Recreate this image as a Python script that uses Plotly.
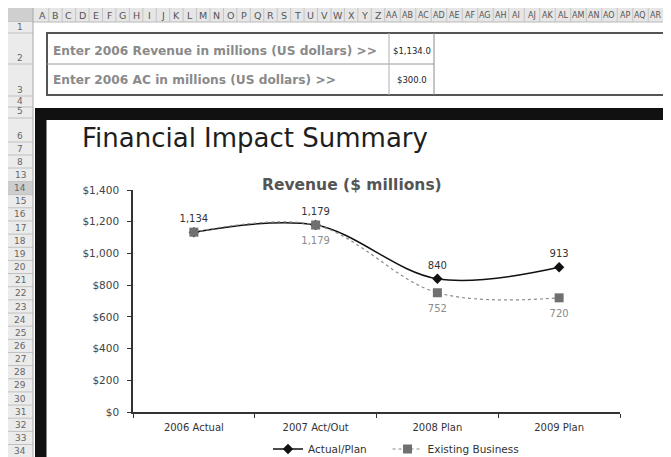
import plotly.graph_objects as go

# ---------------- data ----------------
categories = ["2006 Actual", "2007 Act/Out", "2008 Plan", "2009 Plan"]
actual_plan = [1134, 1179, 840, 913]
existing_business = [1134, 1179, 752, 720]
actual_labels = ["1,134", "1,179", "840", "913"]
existing_labels = ["", "1,179", "752", "720"]
series_names = ["Actual/Plan", "Existing Business"]
y_ticks = [0, 200, 400, 600, 800, 1000, 1200, 1400]
y_tick_text = ["$" + format(v, ",") for v in y_ticks]

input_labels = ["Enter 2006 Revenue in millions (US dollars) >>",
                "Enter 2006 AC in millions (US dollars) >>"]
input_values = ["$1,134.0", "$300.0"]

col_letters = [chr(ord("A") + i) for i in range(26)]
col_letters2 = ["A" + chr(ord("A") + i) for i in range(18)]
row_labels = ["1", "2", "3", "4", "5", "6", "7", "8", "13"] + [str(i) for i in range(14, 35)]

# ---------------- geometry helpers ----------------
# page body has an 8px margin, so the figure is sized to end at the window edge
OFF = 8
W, H = 671 - OFF, 457 - OFF
PLOT_X0, PLOT_X1, PLOT_Y0, PLOT_Y1 = 133, 620, 190, 412   # screen pixels
L, R = PLOT_X0 - OFF, W - (PLOT_X1 - OFF)
T, B = PLOT_Y0 - OFF, H - (PLOT_Y1 - OFF)
PW, PH = PLOT_X1 - PLOT_X0, PLOT_Y1 - PLOT_Y0


def px(x):
    return (x - PLOT_X0) / PW


def py(y):
    return (PLOT_Y1 - y) / PH


FONT = "DejaVu Sans"
shapes = []
annots = []


def rect(x0, y0, x1, y1, fill, line_color=None, lw=0, layer="below"):
    shapes.append(dict(type="rect", xref="paper", yref="paper",
                       x0=px(x0), x1=px(x1), y0=py(y0), y1=py(y1),
                       fillcolor=fill, layer=layer,
                       line=dict(color=line_color or fill, width=lw)))


def line(x0, y0, x1, y1, color, lw=1, layer="below"):
    shapes.append(dict(type="line", xref="paper", yref="paper",
                       x0=px(x0), x1=px(x1), y0=py(y0), y1=py(y1),
                       layer=layer, line=dict(color=color, width=lw)))


def text(x, y, s, size, color, xanchor="center", family=FONT, bold=False):
    if bold:
        s = "<b>" + s + "</b>"
    annots.append(dict(x=px(x), y=py(y), xref="paper", yref="paper", text=s,
                       showarrow=False, xanchor=xanchor, yanchor="middle",
                       font=dict(size=size, color=color, family=family)))


# ---------------- spreadsheet chrome ----------------
# column header
rect(7, 8, 680, 22, "#e6e6e6")
rect(7, 8, 33, 22, "#cfcfcf")
line(7, 22, 680, 22, "#b8b8b8", 1)
cw = 13.44
for i, c in enumerate(col_letters):
    cx = 42 + cw * i
    text(cx, 15, c, 9.5, "#555")
    line(cx + cw / 2, 8, cx + cw / 2, 22, "#c4c4c4", 1)
x0 = 42 + cw * 25 + cw / 2
cw2 = 15.5
for j, c in enumerate(col_letters2):
    cx = x0 + cw2 / 2 + cw2 * j
    text(cx, 15, c, 8, "#555")
    line(cx + cw2 / 2, 8, cx + cw2 / 2, 22, "#c4c4c4", 1)

# row header
bounds = [22, 33, 64, 96, 107, 118, 142, 155, 168] + [181.5 + 13.15 * k for k in range(22)]
rect(7, 22, 33, 470, "#ebebeb")
for k, lab in enumerate(row_labels):
    top, bot = bounds[k], bounds[k + 1]
    if lab == "14":
        rect(7, top, 33, bot, "#cdcdcd")
    line(7, bot, 33, bot, "#c0c0c0", 1)
    text(20, bot - 6.5, lab, 9, "#666")
line(33, 8, 33, 470, "#a8a8a8", 1)
line(7, 8, 7, 470, "#c0c0c0", 1)

# input box
rect(47, 33, 690, 95, "#ffffff", "#555555", 2)
line(47, 64, 434, 64, "#9a9a9a", 1)
line(389, 33, 389, 95, "#b0b0b0", 1)
line(434, 33, 434, 95, "#8a8a8a", 1)
text(51, 51, input_labels[0], 12.2, "#8a8a8a", xanchor="left", bold=True)
text(51, 80, input_labels[1], 12.2, "#8a8a8a", xanchor="left", bold=True)
text(412, 51, input_values[0], 8.5, "#222")
text(412, 80, input_values[1], 8.5, "#222")

# black frame of the dashboard
rect(35, 108, 690, 120, "#111111")
rect(35, 108, 46.5, 470, "#111111")

# titles
text(80, 138, "Financial Impact Summary", 26, "#1e1e1e", xanchor="left")
text(352, 185, "Revenue ($ millions)", 15.5, "#555555", bold=True)

# ---------------- chart ----------------
fig = go.Figure()
fig.add_trace(go.Scatter(
    x=categories, y=actual_plan, name=series_names[0] + "\u2003\u2002", mode="lines+markers",
    line=dict(color="#111111", width=1.5, shape="spline", smoothing=1.0),
    marker=dict(symbol="diamond", size=8, color="#111111"),
    cliponaxis=False, hoverinfo="x+y"))
fig.add_trace(go.Scatter(
    x=categories, y=existing_business, name=series_names[1], mode="lines+markers",
    line=dict(color="#8c8c8c", width=1.2, dash="dot", shape="spline", smoothing=1.0),
    marker=dict(symbol="square", size=9, color="#707070"),
    cliponaxis=False, hoverinfo="x+y"))
fig.add_trace(go.Scatter(
    x=categories, y=actual_plan, mode="markers+text", text=actual_labels,
    textposition="top center", showlegend=False, hoverinfo="skip",
    marker=dict(size=10, color="rgba(0,0,0,0)"),
    textfont=dict(size=10, color="#333333", family=FONT), cliponaxis=False))
fig.add_trace(go.Scatter(
    x=categories, y=existing_business, mode="markers+text", text=existing_labels,
    textposition="bottom center", showlegend=False, hoverinfo="skip",
    marker=dict(size=17, color="rgba(0,0,0,0)"),
    textfont=dict(size=10, color="#8c8c8c", family=FONT), cliponaxis=False))

fig.update_layout(
    width=W, height=H, autosize=False,
    margin=dict(l=L, r=R, t=T, b=B, pad=0, autoexpand=False),
    paper_bgcolor="#ffffff", plot_bgcolor="rgba(0,0,0,0)",
    font=dict(family=FONT, size=10, color="#333333"),
    shapes=shapes, annotations=annots,
    showlegend=True,
    legend=dict(orientation="h", x=px(396), xanchor="center", y=py(449), yanchor="middle",
                font=dict(size=10.5, color="#333333", family=FONT),
                itemwidth=30, bgcolor="rgba(0,0,0,0)", traceorder="normal"),
    xaxis=dict(type="category", categoryorder="array", categoryarray=categories,
               range=[-0.5, 3.5], showline=True, linecolor="#333333", linewidth=1.5,
               ticks="outside", tickson="boundaries", ticklen=4, tickcolor="#333333",
               ticklabelstandoff=5,
               showgrid=False, zeroline=False,
               tickfont=dict(size=10, color="#333333", family=FONT)),
    yaxis=dict(range=[0, 1400], tickmode="array", tickvals=y_ticks, ticktext=y_tick_text,
               showline=True, linecolor="#333333", linewidth=1.5,
               ticks="outside", ticklen=4, tickcolor="#333333",
               ticklabelstandoff=6,
               showgrid=False, zeroline=False,
               tickfont=dict(size=10.5, color="#444444", family=FONT)),
)

fig.write_html("out.html")
